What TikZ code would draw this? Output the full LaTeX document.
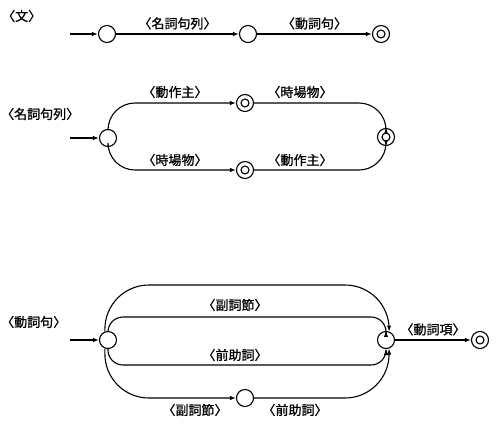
\documentclass[tikz,border=0pt]{standalone}
\usepackage{fontspec}
\usepackage{tikz}
\usetikzlibrary{positioning, arrows.meta}
\newfontfamily\jpfont[FakeBold=1]{Noto Sans CJK JP}

\begin{document}
\begin{tikzpicture}[
  x=1pt, y=-1pt,
  st/.style={draw, circle, line width=1.1pt, minimum size=17pt, inner sep=0pt, fill=white},
  fin/.style={st, path picture={\draw[line width=1.1pt] (path picture bounding box.center) circle (4pt);}},
  arc/.style={-{Latex[length=6pt,width=4.5pt]}, line width=1.1pt},
  lab/.style={font=\jpfont\fontsize{13}{15}\selectfont, inner sep=1pt},
  head/.style={lab, anchor=west}]
  \useasboundingbox (0,0) rectangle (496,424);
  % sentence
  \node[head] (sName) at (1,16) {〈文〉};
  \coordinate (sIn) at (70,34);
  \node[st]  (s0) at (107,34) {};
  \node[st]  (s1) at (248,34) {};
  \node[fin] (s2) at (381,34) {};
  \draw[arc] (sIn) -- (s0);
  \draw[arc] (s0) -- node[lab, above=3pt] {〈名詞句列〉} (s1);
  \draw[arc] (s1) -- node[lab, above=3pt] {〈動詞句〉} (s2);
  % noun phrase list
  \node[head] (mName) at (0,114) {〈名詞句列〉};
  \coordinate (mIn) at (70,138);
  \node[st]  (m0) at (108,138) {};
  \node[fin] (m1) at (245,103) {};
  \node[fin] (m2) at (386,137) {};
  \node[fin] (m3) at (245,170) {};
  \draw[arc] (mIn) -- (m0);
  \draw[arc, rounded corners=27pt] (m0.north) |- (m1);
  \draw[arc, rounded corners=27pt] (m1) -| (m2.north);
  \draw[arc, rounded corners=27pt] (m0.south) |- (m3);
  \draw[arc, rounded corners=27pt] (m3) -| (m2.south);
  \node[lab] (mA) at (175,92)  {〈動作主〉};
  \node[lab] (mB) at (300,92)  {〈時場物〉};
  \node[lab] (mC) at (175,160) {〈時場物〉};
  \node[lab] (mD) at (300,160) {〈動作主〉};
  % verb phrase
  \node[head] (vName) at (0,322) {〈動詞句〉};
  \coordinate (vIn) at (70,340);
  \node[st]  (v0) at (108,340) {};
  \node[st]  (v1) at (386,340) {};
  \node[st]  (v2) at (245,398) {};
  \node[fin] (v3) at (480,340) {};
  \coordinate (vTop) at (245,285);
  \coordinate (vUp)  at (245,317);
  \coordinate (vLow) at (245,365);
  \draw[arc] (vIn) -- (v0);
  \draw[arc, rounded corners=44pt] (v0.110) |- (vTop) -| (v1.70);
  \draw[arc, rounded corners=15pt] (v0.north) |- (vUp) -| (v1.north);
  \draw[arc, rounded corners=15pt] (v0.south) |- (vLow) -| (v1.south);
  \draw[arc, rounded corners=44pt] (v0.250) |- (v2);
  \draw[arc, rounded corners=44pt] (v2) -| (v1.290);
  \draw[arc] (v1) -- node[lab, above=3pt] {〈動詞項〉} (v3);
  \node[lab] (vA) at (235,305) {〈副詞節〉};
  \node[lab] (vB) at (235,355) {〈前助詞〉};
  \node[lab] (vC) at (195,410) {〈副詞節〉};
  \node[lab] (vD) at (295,410) {〈前助詞〉};
\end{tikzpicture}
\end{document}
